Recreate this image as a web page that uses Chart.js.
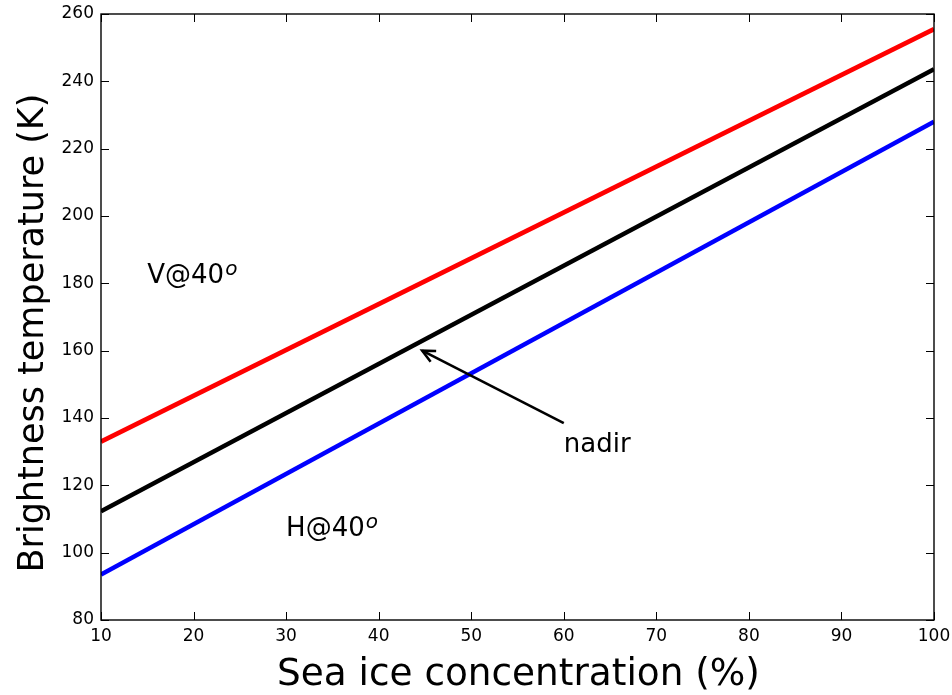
<!DOCTYPE html>
<html><head><meta charset="utf-8">
<script src="https://cdn.jsdelivr.net/npm/chart.js@4/dist/chart.umd.min.js"></script>
<style>html,body{margin:0;padding:0;background:#fff;} #wrap{width:952px;height:695px;position:relative;}</style>
</head><body><div id="wrap"><canvas id="c" width="952" height="695"></canvas></div>
<script>
// ---- data ----
const concentration = [10, 100];
const vPol = [133.0, 255.5];
const nadirTb = [112.3, 243.6];
const hPol = [93.5, 228.0];
const xTicks = [10, 20, 30, 40, 50, 60, 70, 80, 90, 100];
const yTicks = [80, 100, 120, 140, 160, 180, 200, 220, 240, 260];
const xTitle = 'Sea ice concentration (%)';
const yTitle = 'Brightness temperature (K)';
const vLabel = ['V@40', 'o'];
const vLabelAt = [15, 180];
const hLabel = ['H@40', 'o'];
const hLabelAt = [30, 105];
const nadirLabel = 'nadir';
const nadirLabelAt = [60, 130];
const arrowTip = [44.7, 160];
const arrowTail = [60, 138.5];

const FONT = '"DejaVu Sans", sans-serif';
Chart.defaults.font.family = FONT;

function pts(ys) { return concentration.map((x, i) => ({x: x, y: ys[i]})); }

const overlay = {
  id: 'overlay',
  afterDatasetsDraw(chart) {
    const ctx = chart.ctx, xs = chart.scales.x, ys = chart.scales.y, a = chart.chartArea;
    ctx.save();
    // inward ticks on all four sides
    ctx.strokeStyle = '#000'; ctx.lineWidth = 1;
    const TL = 8;
    xTicks.forEach(v => {
      const px = Math.round(xs.getPixelForValue(v)) + 0.5;
      ctx.beginPath(); ctx.moveTo(px, a.bottom); ctx.lineTo(px, a.bottom - TL); ctx.stroke();
      ctx.beginPath(); ctx.moveTo(px, a.top); ctx.lineTo(px, a.top + TL); ctx.stroke();
    });
    yTicks.forEach(v => {
      const py = Math.round(ys.getPixelForValue(v)) + 0.5;
      ctx.beginPath(); ctx.moveTo(a.left, py); ctx.lineTo(a.left + TL, py); ctx.stroke();
      ctx.beginPath(); ctx.moveTo(a.right, py); ctx.lineTo(a.right - TL, py); ctx.stroke();
    });
    // frame
    ctx.lineWidth = 1.4;
    ctx.strokeRect(a.left, a.top, a.right - a.left, a.bottom - a.top);

    // annotations
    ctx.fillStyle = '#000';
    ctx.textBaseline = 'alphabetic';
    ctx.textAlign = 'left';
    function supLabel(parts, at) {
      const x = xs.getPixelForValue(at[0]), y = ys.getPixelForValue(at[1]);
      ctx.font = '26px ' + FONT;
      ctx.fillText(parts[0], x, y);
      const w = ctx.measureText(parts[0]).width;
      ctx.font = 'italic 20px ' + FONT;
      ctx.fillText(parts[1], x + w + 1, y - 8);
    }
    supLabel(vLabel, vLabelAt);
    supLabel(hLabel, hLabelAt);
    ctx.font = '26px ' + FONT;
    ctx.fillText(nadirLabel, xs.getPixelForValue(nadirLabelAt[0]), ys.getPixelForValue(nadirLabelAt[1]));

    // arrow
    const tx = xs.getPixelForValue(arrowTip[0]), ty = ys.getPixelForValue(arrowTip[1]);
    const sx = xs.getPixelForValue(arrowTail[0]), sy = ys.getPixelForValue(arrowTail[1]);
    ctx.strokeStyle = '#000'; ctx.lineWidth = 2.6; ctx.lineCap = 'butt';
    ctx.beginPath(); ctx.moveTo(sx, sy); ctx.lineTo(tx, ty); ctx.stroke();
    const ang = Math.atan2(ty - sy, tx - sx), hl = 14, ha = 0.45;
    ctx.beginPath();
    ctx.moveTo(tx - hl * Math.cos(ang - ha), ty - hl * Math.sin(ang - ha));
    ctx.lineTo(tx, ty);
    ctx.lineTo(tx - hl * Math.cos(ang + ha), ty - hl * Math.sin(ang + ha));
    ctx.stroke();

    // axis titles
    ctx.font = '37.4px ' + FONT;
    ctx.textAlign = 'center';
    ctx.fillText(xTitle, (a.left + a.right) / 2 + 1, 685);
    ctx.save();
    ctx.translate(43, 333);
    ctx.rotate(-Math.PI / 2);
    ctx.font = '35px ' + FONT;
    ctx.fillText(yTitle, 0, 0);
    ctx.restore();
    ctx.restore();
  }
};

new Chart(document.getElementById('c'), {
  type: 'scatter',
  data: {
    datasets: [
      {label: 'V@40', data: pts(vPol), borderColor: '#ff0000', backgroundColor: '#ff0000'},
      {label: 'nadir', data: pts(nadirTb), borderColor: '#000000', backgroundColor: '#000000'},
      {label: 'H@40', data: pts(hPol), borderColor: '#0000ff', backgroundColor: '#0000ff'}
    ].map(d => Object.assign(d, {showLine: true, pointRadius: 0, borderWidth: 4.6, tension: 0}))
  },
  options: {
    responsive: false,
    animation: false,
    devicePixelRatio: 1,
    layout: {padding: {top: 14, right: 18, left: 0, bottom: 0}},
    plugins: {legend: {display: false}, tooltip: {enabled: false}},
    scales: {
      x: {
        type: 'linear', min: 10, max: 100,
        afterBuildTicks: s => { s.ticks = xTicks.map(v => ({value: v})); },
        afterFit: s => { s.height = 75; s.paddingLeft = 0; s.paddingRight = 0; },
        grid: {display: false, drawTicks: false},
        border: {display: false},
        ticks: {font: {size: 17}, color: '#000', padding: 6, maxRotation: 0, autoSkip: false}
      },
      y: {
        type: 'linear', min: 80, max: 260,
        afterBuildTicks: s => { s.ticks = yTicks.map(v => ({value: v})); },
        afterFit: s => { s.width = 101; s.paddingTop = 0; s.paddingBottom = 0; },
        grid: {display: false, drawTicks: false},
        border: {display: false},
        ticks: {font: {size: 17}, color: '#000', padding: 7, autoSkip: false}
      }
    }
  },
  plugins: [overlay]
});
</script></body></html>
